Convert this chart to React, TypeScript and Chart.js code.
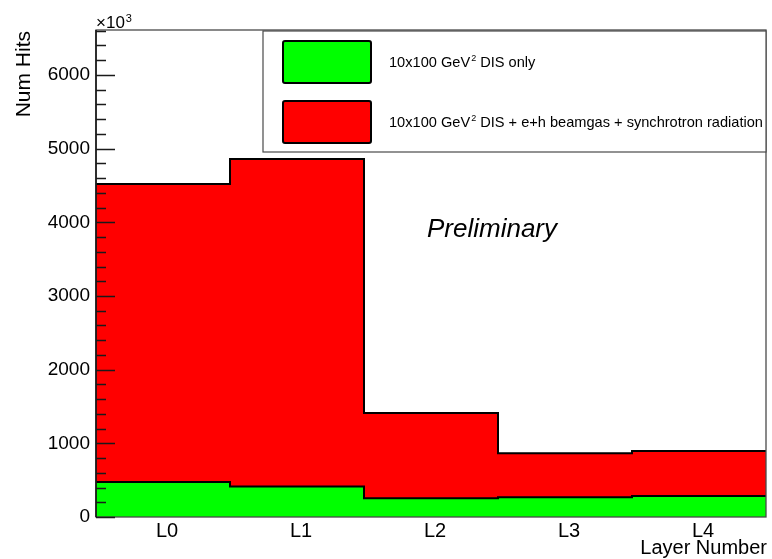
import React, { useEffect, useRef } from "react";
import { Chart, registerables } from "chart.js";

Chart.register(...registerables);

// Hits per silicon layer
const layers = ["L0", "L1", "L2", "L3", "L4"];
const disOnly = [475, 414, 254, 267, 285];
const disWithBackground = [4520, 4860, 1412, 865, 896];
const yTicks = [0, 1000, 2000, 3000, 4000, 5000, 6000];
const yMinorStep = 200;
const yMax = 6610;

const FONT = "'Liberation Sans', Arial, Helvetica, sans-serif";

// Histogram outline: one point per bin's left edge, plus the closing right edge
const toSteps = (vals: number[]) => [
  ...vals.map((v, i) => ({ x: i, y: v })),
  { x: vals.length, y: vals[vals.length - 1] },
];

type Part = { t: string; sup?: boolean };

function drawRich(ctx: CanvasRenderingContext2D, parts: Part[], x: number, y: number, size: number) {
  let cx = x;
  ctx.textAlign = "left";
  ctx.textBaseline = "alphabetic";
  for (const p of parts) {
    if (p.sup) {
      ctx.font = `${Math.round(size * 0.62)}px ${FONT}`;
      ctx.fillText(p.t, cx + 1, y - size * 0.38);
      cx += ctx.measureText(p.t).width + 1;
    } else {
      ctx.font = `${size}px ${FONT}`;
      ctx.fillText(p.t, cx, y);
      cx += ctx.measureText(p.t).width;
    }
  }
}

const decorations = {
  id: "decorations",
  afterDatasetsDraw(chart: any) {
    const ctx: CanvasRenderingContext2D = chart.ctx;
    const { left, right, top, bottom } = chart.chartArea;
    const y = chart.scales.y;
    ctx.save();

    // frame
    ctx.strokeStyle = "#4a4a4a";
    ctx.lineWidth = 1.3;
    ctx.strokeRect(left, top, right - left, bottom - top);
    ctx.strokeStyle = "#111";
    ctx.lineWidth = 1.5;
    ctx.beginPath();
    ctx.moveTo(left, top);
    ctx.lineTo(left, bottom);
    ctx.stroke();

    // y-axis tick marks drawn inside the frame
    ctx.strokeStyle = "#1a1a1a";
    ctx.lineWidth = 1.3;
    ctx.beginPath();
    for (let v = 0; v <= yMax; v += yMinorStep) {
      const py = Math.round(y.getPixelForValue(v)) + 0.5;
      const major = v % 1000 === 0;
      ctx.moveTo(left, py);
      ctx.lineTo(left + (major ? 19 : 10), py);
    }
    ctx.stroke();

    // legend
    const lx = 263, ly = 31, lw = 766 - 263, lh = 121;
    ctx.fillStyle = "#fff";
    ctx.fillRect(lx, ly, lw, lh);
    ctx.strokeStyle = "#4a4a4a";
    ctx.lineWidth = 1.2;
    ctx.strokeRect(lx, ly, lw, lh);

    const entries = [
      { color: "#00ff00", parts: [{ t: "10x100 GeV" }, { t: "2", sup: true }, { t: " DIS only" }] },
      {
        color: "#ff0000",
        parts: [{ t: "10x100 GeV" }, { t: "2", sup: true }, { t: " DIS + e+h beamgas + synchrotron radiation" }],
      },
    ];
    entries.forEach((e, i) => {
      const sy = 41 + i * 60;
      ctx.fillStyle = e.color;
      ctx.strokeStyle = "#000";
      ctx.lineWidth = 2;
      ctx.beginPath();
      (ctx as any).roundRect(283, sy, 88, 42, 2);
      ctx.fill();
      ctx.stroke();
      ctx.fillStyle = "#000";
      drawRich(ctx, e.parts as Part[], 389, sy + 26, 14.6);
    });

    // annotation
    ctx.fillStyle = "#000";
    ctx.font = `italic 26px ${FONT}`;
    ctx.textAlign = "left";
    ctx.textBaseline = "alphabetic";
    ctx.fillText("Preliminary", 427, 237);

    // axis exponent
    drawRich(ctx, [{ t: "\u00d710" }, { t: "3", sup: true }], 96, 28, 17);

    // axis titles
    ctx.font = `20px ${FONT}`;
    ctx.textAlign = "right";
    ctx.textBaseline = "alphabetic";
    ctx.fillText("Layer Number", 767, 554);

    ctx.save();
    ctx.translate(30, 31);
    ctx.rotate(-Math.PI / 2);
    ctx.font = `21px ${FONT}`;
    ctx.textAlign = "right";
    ctx.textBaseline = "alphabetic";
    ctx.fillText("Num Hits", 0, 0);
    ctx.restore();

    ctx.restore();
  },
};

export default function App() {
  const ref = useRef<HTMLCanvasElement>(null);

  useEffect(() => {
    if (!ref.current) return;
    const chart = new Chart(ref.current, {
      type: "line",
      data: {
        datasets: [
          {
            label: "10x100 GeV2 DIS only",
            data: toSteps(disOnly),
            backgroundColor: "#00ff00",
            borderColor: "#000",
            borderWidth: 2,
            fill: "origin",
            stepped: "before",
            pointRadius: 0,
          },
          {
            label: "10x100 GeV2 DIS + e+h beamgas + synchrotron radiation",
            data: toSteps(disWithBackground),
            backgroundColor: "#ff0000",
            borderColor: "#000",
            borderWidth: 2,
            fill: "origin",
            stepped: "before",
            pointRadius: 0,
          },
        ],
      },
      options: {
        responsive: false,
        animation: false,
        devicePixelRatio: 1,
        layout: { padding: { top: 30, right: 6, bottom: 0, left: 0 } },
        plugins: {
          legend: { display: false },
          tooltip: { enabled: false },
        },
        scales: {
          x: {
            type: "linear",
            min: 0,
            max: layers.length,
            grid: { display: false, drawTicks: false },
            border: { display: false },
            afterBuildTicks: (s: any) => {
              s.ticks = layers.map((_, i) => ({ value: i + 0.5 }));
            },
            afterFit: (s: any) => {
              s.height = 42;
            },
            ticks: {
              autoSkip: false,
              maxRotation: 0,
              padding: 2,
              labelOffset: 4,
              color: "#000",
              font: { family: FONT, size: 20 },
              callback: (v: any) => layers[Math.floor(Number(v))] ?? "",
            },
          },
          y: {
            min: 0,
            max: yMax,
            grid: { display: false, drawTicks: false },
            border: { display: false },
            afterBuildTicks: (s: any) => {
              s.ticks = yTicks.map((v) => ({ value: v }));
            },
            afterFit: (s: any) => {
              s.width = 96;
            },
            ticks: {
              padding: 6,
              color: "#000",
              font: { family: FONT, size: 19 },
              callback: (v: any) => String(v),
            },
          },
        },
      },
      plugins: [decorations],
    });
    return () => chart.destroy();
  }, []);

  return (
    <div style={{ position: "absolute", left: 0, top: 0, width: 772, height: 559, background: "#fff" }}>
      <canvas ref={ref} width={772} height={559} />
    </div>
  );
}
